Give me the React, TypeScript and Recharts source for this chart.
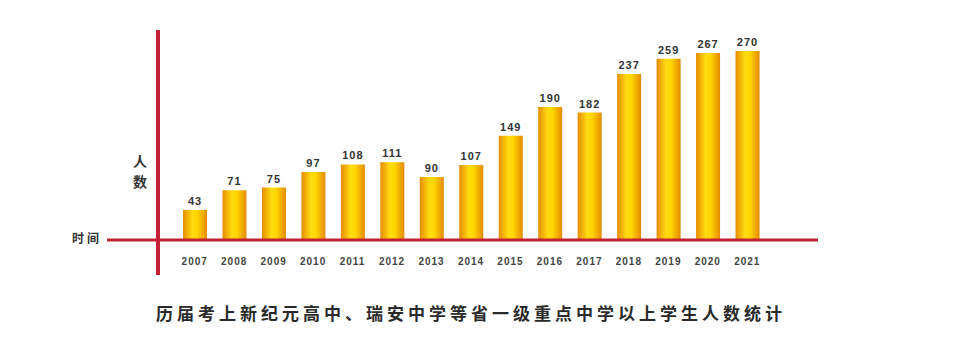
import React from 'react';
import { BarChart, Bar, XAxis, YAxis, ReferenceLine, LabelList } from 'recharts';

// years and student counts
const years = ['2007', '2008', '2009', '2010', '2011', '2012', '2013', '2014', '2015', '2016', '2017', '2018', '2019', '2020', '2021'];
const counts = [43, 71, 75, 97, 108, 111, 90, 107, 149, 190, 182, 237, 259, 267, 270];
const yTicks = [0];

const data = years.map((year, i) => ({ year, count: counts[i] }));

const RED = '#c41f35';
const NUM_FONT = '"Liberation Sans", Arial, sans-serif';
const CJK_FONT = '"Noto Sans CJK SC", sans-serif';

const YearTick = (props: any) => {
    const { x, y, payload } = props;
    return (
        <text x={x} y={y - 21} textAnchor="middle" dominantBaseline="middle" fill="#444" fontSize={10} fontWeight="bold" fontFamily={NUM_FONT} letterSpacing={1}>
            {payload.value}
        </text>
    );
};

const TimeTick = (props: any) => {
    const { x, y } = props;
    return (
        <text x={x} y={y} textAnchor="end" dominantBaseline="middle" fill="#333" fontSize={12} fontWeight="bold" fontFamily={CJK_FONT} letterSpacing={3}>
            时间
        </text>
    );
};

const PeopleLabel = (props: any) => {
    const { viewBox } = props;
    const cx = viewBox.x + viewBox.width - 18;
    return (
        <text x={cx} textAnchor="middle" fill="#333" fontSize={14} fontWeight="bold" fontFamily={CJK_FONT}>
            <tspan x={cx} y={158}>人</tspan>
            <tspan x={cx} y={179}>数</tspan>
        </text>
    );
};

const App: React.FC = () => {
    return (
        <div style={{ position: 'relative', width: 950, height: 342 }}>
            <BarChart width={950} height={342} data={data} margin={{ top: 22, right: 140, bottom: 45, left: 0 }}>
                <defs>
                    <linearGradient id="goldBar" x1="0" y1="0" x2="1" y2="0">
                        <stop offset="0%" stopColor="#e58c00" />
                        <stop offset="40%" stopColor="#ffdc10" />
                        <stop offset="60%" stopColor="#ffd600" />
                        <stop offset="100%" stopColor="#e48a00" />
                    </linearGradient>
                </defs>
                <XAxis
                    dataKey="year"
                    height={30}
                    axisLine={false}
                    tickLine={false}
                    padding={{ left: 17, right: 51 }}
                    tick={<YearTick />}
                    interval={0}
                />
                <YAxis
                    width={150}
                    domain={[-50, 300]}
                    ticks={yTicks}
                    tickSize={51}
                    tickMargin={5}
                    axisLine={{ stroke: RED, strokeWidth: 4 }}
                    tickLine={{ stroke: RED, strokeWidth: 3 }}
                    tick={<TimeTick />}
                    label={<PeopleLabel />}
                />
                <ReferenceLine y={0} stroke={RED} strokeWidth={3} />
                <Bar dataKey="count" barSize={24} fill="url(#goldBar)" isAnimationActive={false}>
                    <LabelList dataKey="count" position="top" offset={5} fill="#333" fontSize={11} fontWeight="bold" fontFamily={NUM_FONT} letterSpacing={1} />
                </Bar>
            </BarChart>
            <div
                style={{
                    position: 'absolute',
                    left: 0,
                    top: 292,
                    width: 926,
                    textAlign: 'center',
                    fontFamily: CJK_FONT,
                    fontWeight: 'bold',
                    fontSize: 17,
                    letterSpacing: 4,
                    color: '#2a2a2a',
                }}
            >
                历届考上新纪元高中、瑞安中学等省一级重点中学以上学生人数统计
            </div>
        </div>
    );
};

export default App;
